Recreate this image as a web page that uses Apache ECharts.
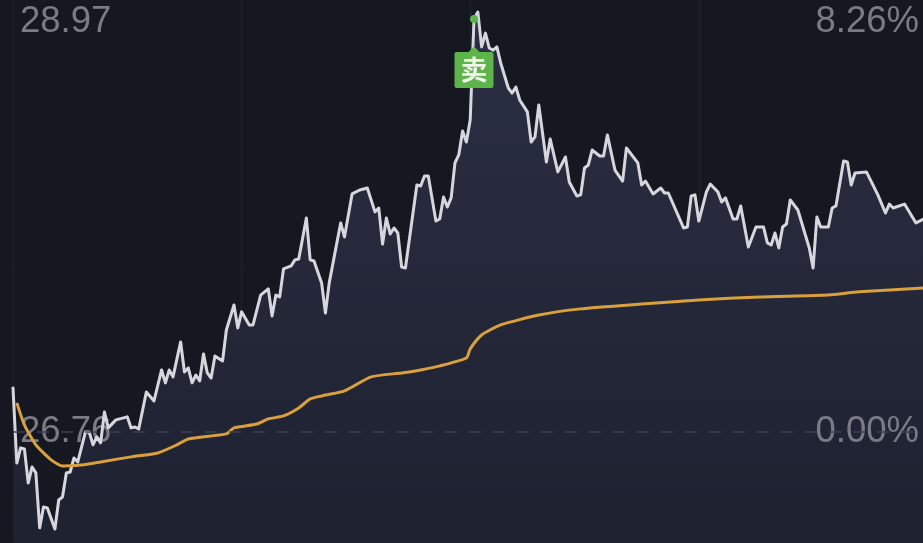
<!DOCTYPE html>
<html><head><meta charset="utf-8">
<style>html,body{margin:0;padding:0;background:#151821;overflow:hidden}#c{width:923px;height:543px;filter:blur(0.7px)}</style>
<script src="https://cdn.jsdelivr.net/npm/echarts@6/dist/echarts.min.js"></script>
</head><body><div id="c"></div>
<script>
const minutes=[0,1,2,3,4,5,6,7,8,9,11,12,13,14,15,16,17,19,20,21,22,23,24,25,27,30,31,32,33,35,37,39,40,41,42,44,45,46,47,48,49,50,51,52,53,55,56,58,59,60,62,63,65,67,68,69,70,71,73,74,75,77,78,79,81,82,83,86,87,89,91,93,95,96,97,98,99,100,101,102,103,106,107,108,109,111,112,113,114,115,116,117,118,119,120,121,122,123,124,125,126,127,128,130,131,132,133,135,136,137,138,140,141,143,145,146,148,149,150,151,152,154,155,156,158,160,161,164,165,166,168,170,171,172,176,177,178,179,180,182,183,185,186,187,189,190,191,193,195,197,198,199,200,201,202,203,204,206,209,210,211,212,214,215,216,218,219,220,221,224,227,229,230,231,234,237,239];
const prices=[26.996,26.594,26.675,26.669,26.487,26.573,26.541,26.247,26.359,26.354,26.241,26.396,26.413,26.541,26.546,26.621,26.600,26.760,26.760,26.691,26.734,26.702,26.867,26.782,26.825,26.841,26.782,26.787,26.776,26.974,26.926,27.092,27.023,27.092,27.055,27.242,27.081,27.103,27.023,27.065,27.033,27.178,27.076,27.049,27.167,27.140,27.306,27.440,27.317,27.403,27.333,27.333,27.493,27.526,27.381,27.493,27.483,27.633,27.649,27.681,27.686,27.905,27.681,27.675,27.558,27.397,27.558,27.879,27.804,28.034,28.055,28.066,27.938,27.959,27.766,27.905,27.820,27.852,27.825,27.643,27.638,28.082,28.077,28.130,28.130,27.889,27.900,28.018,27.964,28.013,28.200,28.243,28.371,28.312,28.430,28.970,29.008,28.821,28.895,28.815,28.804,28.821,28.735,28.601,28.574,28.606,28.537,28.473,28.312,28.339,28.510,28.205,28.328,28.152,28.232,28.098,28.023,28.029,28.173,28.189,28.269,28.237,28.237,28.350,28.162,28.103,28.280,28.200,28.082,28.103,28.034,28.066,28.039,28.039,27.852,27.857,28.023,28.029,27.889,28.045,28.087,28.045,27.991,28.013,27.900,27.900,27.970,27.750,27.857,27.857,27.772,27.761,27.825,27.745,27.857,27.873,28.002,27.948,27.745,27.638,27.911,27.857,27.857,27.959,27.970,28.210,28.205,28.082,28.146,28.152,28.029,27.932,27.980,27.959,27.980,27.879,27.900];
const avgMinutes=[1,3,6,10,13,18,23,31,38,43,46,56,58,64,67,71,75,78,81,87,94,102,107,112,119,120,123,128,138,149,165,180,196,214,222,239];
const avgPrices=[26.916,26.798,26.691,26.611,26.578,26.584,26.600,26.627,26.648,26.691,26.723,26.750,26.782,26.803,26.830,26.846,26.889,26.937,26.953,26.980,27.055,27.076,27.092,27.114,27.156,27.205,27.279,27.333,27.386,27.419,27.445,27.467,27.483,27.493,27.510,27.531];
const basePrice=26.76, sellMinute=121, sellPrice=28.97;
const topLeft='28.97', topRight='8.26%', baseLeft='26.76', baseRight='0.00%', sellText='卖';

const pricePairs=minutes.map((m,i)=>[m,prices[i]]);
const avgPairs=avgMinutes.map((m,i)=>[m,avgPrices[i]]);
const labelStyle=(t,x,y,align)=>({type:'text',z:2,x,y,style:{text:t,fill:'#797c87',font:'36.5px "Liberation Sans"',textAlign:align,textVerticalAlign:'middle'}});
const green='#5db54a';
const badge='path://M2,0H37a2,2 0 0 1 2,2V34a2,2 0 0 1 -2,2H2a2,2 0 0 1 -2,-2V2a2,2 0 0 1 2,-2Z';
const chart=echarts.init(document.getElementById('c'),null,{renderer:'canvas'});
chart.setOption({
  animation:false,
  backgroundColor:'#151821',
  grid:{left:13,top:0,width:914.4,height:543,outerBoundsMode:'none'},
  xAxis:{type:'value',min:0,max:240,interval:60,axisLine:{show:false},axisTick:{show:false},axisLabel:{show:false},
    splitLine:{show:true,lineStyle:{color:'#20232d',width:1}}},
  yAxis:{type:'value',min:26.166,max:29.072,axisLine:{show:false},axisTick:{show:false},axisLabel:{show:false},splitLine:{show:false}},
  graphic:[labelStyle(topLeft,20,22,'left'),labelStyle(topRight,919,22,'right'),labelStyle(baseLeft,20,432,'left'),labelStyle(baseRight,919,432,'right')],
  series:[
    {type:'line',z:1,data:pricePairs,symbol:'none',clip:false,lineStyle:{width:0},
      areaStyle:{opacity:1,color:new echarts.graphic.LinearGradient(0,0,0,1,[{offset:0,color:'#2b2f43'},{offset:1,color:'#1e2130'}])},
      markLine:{silent:true,symbol:'none',label:{show:false},lineStyle:{color:'#3b3f4d',type:[12,12],width:1.5},data:[{yAxis:basePrice}]}},
    {type:'line',z:3,data:pricePairs,symbol:'none',clip:false,lineStyle:{color:'#d6d7dd',width:3,join:'round',cap:'round'},
      markPoint:{silent:true,data:[
        {coord:[sellMinute,sellPrice],symbol:'circle',symbolSize:8,itemStyle:{color:green},label:{show:false}},
        {coord:[sellMinute,sellPrice],symbol:'triangle',symbolSize:[14,7],symbolOffset:[0,31],itemStyle:{color:green},label:{show:false}},
        {coord:[sellMinute,sellPrice],symbol:badge,symbolKeepAspect:false,symbolSize:[39,36],symbolOffset:[0,51],itemStyle:{color:green},
          label:{show:true,position:'inside',formatter:sellText,color:'#f2f7ee',fontSize:27,fontWeight:'bold',fontFamily:'Noto Sans CJK SC'}}
      ]}},
    {type:'line',z:4,data:avgPairs,symbol:'none',clip:false,smooth:0.2,lineStyle:{color:'#d9a03c',width:3}}
  ]
});
</script></body></html>
